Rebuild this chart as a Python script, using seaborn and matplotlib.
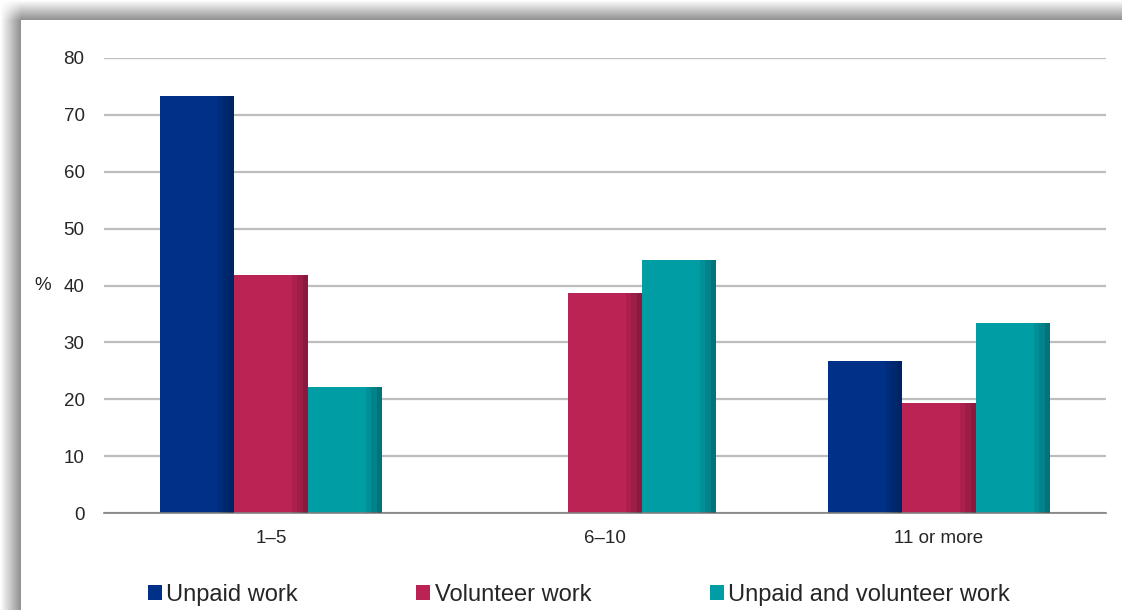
import matplotlib
matplotlib.use("Agg")
import matplotlib.pyplot as plt
import numpy as np
import pandas as pd
import seaborn as sns

# Values (%)
groups = ["1–5", "6–10", "11 or more"]
series = ["Unpaid work", "Volunteer work", "Unpaid and volunteer work"]
unpaid = [73.3, 0.0, 26.7]
volunteer = [41.9, 38.7, 19.3]
both = [22.2, 44.5, 33.4]
colors = ["#003087", "#BC2355", "#009DA5"]
y_ticks = [0, 10, 20, 30, 40, 50, 60, 70, 80]

df = pd.DataFrame({"group": groups, series[0]: unpaid, series[1]: volunteer, series[2]: both})
df = df.melt(id_vars="group", var_name="series", value_name="pct")

sns.set_style("white")
plt.rcParams["font.family"] = ["Liberation Sans", "DejaVu Sans"]

fig = plt.figure(figsize=(11.22, 6.10), dpi=100)

# drop shadow frame on the left and top edges
bg = fig.add_axes([0, 0, 1, 1], zorder=0)
H, W = 610, 1122
xs = np.arange(W)[None, :]
ys = np.arange(H)[:, None]
dx = np.where(xs < 21, xs / 21.0, 1.0)
dy = np.where(ys < 20, ys / 20.0, 1.0)
dark = dx * dy
inside = (xs >= 21) & (ys >= 20)
shade = np.where(inside, 1.0, 1.0 - 0.45 * dark)
bg.imshow(shade, cmap="gray", vmin=0, vmax=1, extent=[0, 1, 0, 1], aspect="auto")
bg.axis("off")

ax = fig.add_axes([104 / W, 1 - 513 / H, (1106 - 104) / W, (513 - 58) / H], zorder=1)
ax.patch.set_alpha(0)

sns.barplot(data=df, x="group", y="pct", hue="series", palette=colors,
            width=0.665, saturation=1, ax=ax, edgecolor="none", legend=True)

# darker strip at the right edge of each bar for the shaded look
for bar in ax.patches:
    h = bar.get_height()
    if h <= 0:
        continue
    x0, w = bar.get_x(), bar.get_width()
    for i, a in enumerate([0.08, 0.16, 0.26]):
        ax.bar(x0 + w * (0.78 + 0.073 * i), h, width=w * 0.073, align="edge",
               color="black", alpha=a, linewidth=0, zorder=3)

ax.set_ylim(0, 80)
ax.set_xlim(-0.5, 2.5)
ax.set_yticks(y_ticks)
ax.set_yticklabels([str(t) for t in y_ticks], fontsize=13.5)
ax.yaxis.grid(True, color="#bdbdbd", linewidth=1.6)
ax.set_axisbelow(True)
ax.tick_params(axis="y", length=0, pad=14)

ax.set_xticks([0, 1, 2])
ax.set_xticklabels(groups, fontsize=13.5)
ax.set_xticks([-0.5, 0.5, 1.5, 2.5], minor=True)
ax.tick_params(axis="x", which="major", length=0, pad=12)
ax.tick_params(axis="x", which="minor", length=5, width=1, color="#808080", direction="out")

for s in ["top", "right", "left"]:
    ax.spines[s].set_visible(False)
ax.spines["bottom"].set_color("#808080")
ax.spines["bottom"].set_linewidth(1.2)

ax.set_xlabel("")
ax.set_ylabel("%", rotation=0, fontsize=13.5, labelpad=15, va="center")

handles, labels = ax.get_legend_handles_labels()
ax.legend(handles, labels, loc="upper left", bbox_to_anchor=(0.034, -0.135), ncol=3,
          frameon=False, fontsize=17, handlelength=0.6, handleheight=0.6,
          handletextpad=0.2, columnspacing=5.0, borderaxespad=0)

fig.savefig("out.png", dpi=100)
